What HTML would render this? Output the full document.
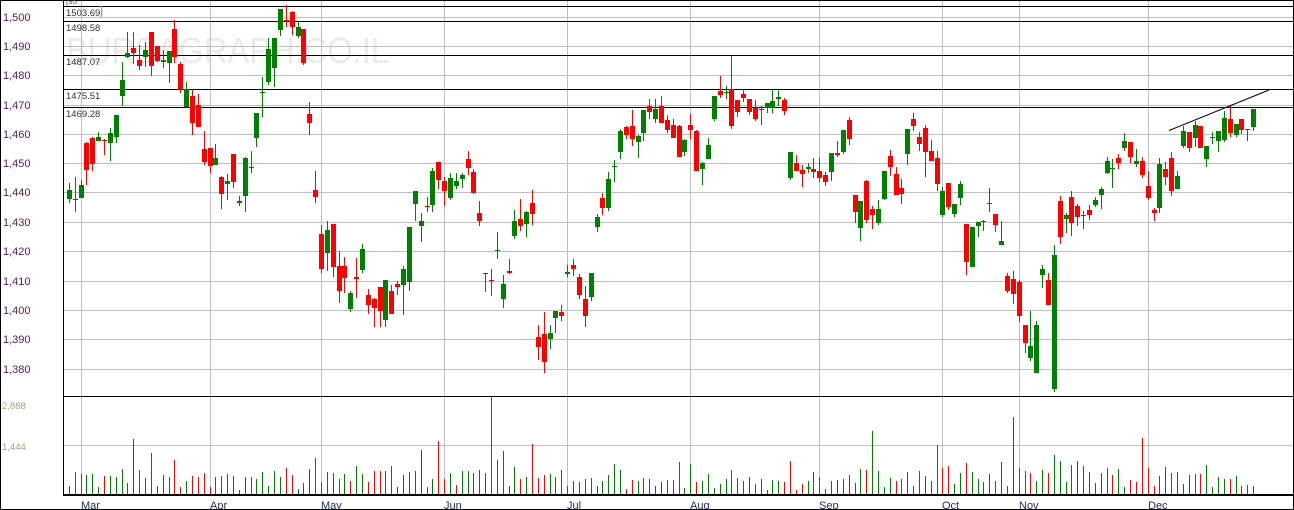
<!DOCTYPE html>
<html><head><meta charset="utf-8"><style>
html,body{margin:0;padding:0;background:#fff;width:1294px;height:510px;overflow:hidden}
svg{display:block}
text{font-family:"Liberation Sans",Arial,sans-serif}
</style></head><body>
<svg width="1294" height="510" viewBox="0 0 1294 510" xmlns="http://www.w3.org/2000/svg">
<rect x="0" y="0" width="1294" height="510" fill="#fff"/>
<!-- watermark -->
<text x="66" y="63" font-size="36" fill="#ebebeb" textLength="323" lengthAdjust="spacingAndGlyphs">BURSAGRAPH.CO.IL</text>
<g shape-rendering="crispEdges">
<!-- horizontal gray grid -->
<path stroke="#c0c0c0" stroke-width="1" fill="none" d="M63 17.5H1293M63 46.5H1293M63 75.5H1293M63 105.5H1293M63 134.5H1293M63 163.5H1293M63 192.5H1293M63 222.5H1293M63 251.5H1293M63 281.5H1293M63 310.5H1293M63 339.5H1293M63 369.5H1293M63 445.5H1293"/>
<!-- vertical gray grid -->
<path stroke="#c0c0c0" stroke-width="1" fill="none" d="M81.5 0V494M210.5 0V494M321.5 0V494M444.5 0V494M567.5 0V494M690.5 0V494M819.5 0V494M942.5 0V494M1019.5 0V494M1148.5 0V494"/>
<!-- black level lines -->
<path stroke="#000" stroke-width="1" fill="none" d="M63 6.5H1293M63 21.5H1293M63 55.5H1293M63 89.5H1293M63 107.5H1293"/>
<!-- green wicks -->
<path stroke="#008000" stroke-width="1" fill="none" d="M69.5 183V203M75.5 177V212M81.5 180V198M98.5 132V141M110.5 128V161M116.5 115V143M122.5 62V106M127.5 32V58M145.5 42V67M163.5 50V68M169.5 51V83M186.5 82V107M215.5 144V165M227.5 174V200M239.5 196V206M245.5 157V212M256.5 113V147M262.5 77V117M268.5 38V85M274.5 38V87M280.5 9V36M298.5 22V38M327.5 221V271M350.5 291V312M362.5 244V273M385.5 280V327M403.5 266V315M409.5 227V291M415.5 191V221M421.5 213V242M432.5 168V212M450.5 173V200M456.5 173V189M462.5 173V188M497.5 232V259M503.5 275V308M514.5 210V239M526.5 211V237M550.5 325V349M555.5 311V333M567.5 265V277M591.5 273V301M597.5 214V232M608.5 172V211M614.5 160V182M620.5 129V159M638.5 135V158M643.5 110V141M655.5 99V123M684.5 139V156M702.5 162V185M708.5 138V159M714.5 96V121M726.5 86V99M761.5 106V125M767.5 103V113M772.5 89V113M778.5 89V106M790.5 152V180M808.5 163V173M831.5 153V181M843.5 130V154M860.5 201V241M878.5 200V225M884.5 171V200M907.5 129V165M942.5 187V217M954.5 204V217M960.5 181V205M972.5 227V267M978.5 222V237M989.5 188V212M1001.5 221V245M1030.5 311V361M1036.5 321V373M1042.5 265V288M1054.5 245V392M1066.5 213V233M1083.5 211V229M1095.5 197V207M1101.5 187V209M1107.5 157V174M1112.5 159V188M1124.5 133V151M1136.5 149V167M1159.5 158V213M1177.5 171V189M1183.5 126V148M1195.5 121V147M1206.5 146V167M1212.5 132V144M1218.5 131V152M1224.5 111V142M1236.5 124V137M1247.5 129V141M1253.5 109V131"/>
<!-- green bodies -->
<path fill="#008000" d="M67 190h5v9h-5zM73 199h5v1h-5zM79 185h5v13h-5zM96 137h5v4h-5zM108 133h5v10h-5zM114 115h5v22h-5zM120 80h5v16h-5zM125 53h5v4h-5zM143 50h5v7h-5zM161 60h5v2h-5zM167 51h5v12h-5zM184 89h5v18h-5zM213 158h5v7h-5zM225 181h5v3h-5zM237 201h5v2h-5zM243 158h5v38h-5zM254 113h5v25h-5zM260 92h5v1h-5zM266 49h5v33h-5zM272 38h5v30h-5zM278 9h5v21h-5zM296 27h5v9h-5zM325 230h5v23h-5zM348 293h5v16h-5zM360 249h5v21h-5zM383 280h5v40h-5zM401 269h5v16h-5zM407 227h5v55h-5zM413 191h5v13h-5zM419 221h5v5h-5zM430 171h5v34h-5zM448 178h5v20h-5zM454 181h5v5h-5zM460 175h5v4h-5zM495 250h5v1h-5zM501 284h5v15h-5zM512 221h5v15h-5zM524 212h5v12h-5zM548 333h5v6h-5zM553 311h5v7h-5zM565 272h5v2h-5zM589 273h5v24h-5zM595 217h5v10h-5zM606 179h5v29h-5zM612 166h5v1h-5zM618 131h5v21h-5zM636 136h5v6h-5zM641 110h5v23h-5zM653 109h5v10h-5zM682 140h5v12h-5zM700 163h5v6h-5zM706 145h5v14h-5zM712 96h5v23h-5zM724 92h5v1h-5zM759 109h5v1h-5zM765 103h5v5h-5zM770 101h5v7h-5zM776 97h5v2h-5zM788 152h5v26h-5zM806 167h5v2h-5zM829 153h5v19h-5zM841 130h5v22h-5zM858 201h5v27h-5zM876 209h5v14h-5zM882 171h5v28h-5zM905 129h5v25h-5zM940 191h5v24h-5zM952 204h5v10h-5zM958 184h5v14h-5zM970 227h5v40h-5zM976 222h5v4h-5zM987 203h5v1h-5zM999 241h5v4h-5zM1028 346h5v12h-5zM1034 325h5v48h-5zM1040 269h5v6h-5zM1052 255h5v134h-5zM1064 215h5v4h-5zM1081 215h5v1h-5zM1093 200h5v5h-5zM1099 189h5v6h-5zM1105 161h5v12h-5zM1110 168h5v1h-5zM1122 141h5v7h-5zM1134 161h5v3h-5zM1157 164h5v44h-5zM1175 176h5v13h-5zM1181 131h5v15h-5zM1193 125h5v13h-5zM1204 146h5v13h-5zM1210 137h5v1h-5zM1216 131h5v10h-5zM1222 118h5v22h-5zM1234 124h5v11h-5zM1245 129h5v1h-5zM1251 109h5v18h-5z"/>
<!-- red wicks -->
<path stroke="#ff0000" stroke-width="1" fill="none" d="M86.5 142V185M92.5 137V171M104.5 139V155M133.5 32V64M139.5 45V70M151.5 32V76M157.5 46V62M174.5 20V63M180.5 62V93M192.5 89V135M198.5 94V127M204.5 131V165M210.5 148V173M221.5 176V209M233.5 154V188M251.5 151V173M286.5 5V27M292.5 11V35M303.5 29V65M309.5 102V135M315.5 171V203M321.5 225V273M333.5 224V277M339.5 251V303M344.5 257V293M356.5 258V298M368.5 289V314M374.5 298V327M380.5 287V327M391.5 285V314M397.5 281V295M427.5 197V212M438.5 162V189M444.5 177V206M468.5 151V175M473.5 169V194M479.5 201V226M485.5 273V292M491.5 269V296M509.5 259V274M520.5 199V231M532.5 190V225M538.5 325V360M544.5 312V373M561.5 305V321M573.5 259V276M579.5 274V299M585.5 286V327M602.5 193V215M626.5 126V139M632.5 110V146M649.5 99V119M661.5 96V123M667.5 115V133M673.5 119V138M679.5 125V157M690.5 114V139M696.5 130V171M720.5 76V98M731.5 56V129M737.5 100V117M743.5 89V102M749.5 99V115M755.5 100V121M784.5 98V115M796.5 155V171M802.5 165V187M813.5 158V178M819.5 158V182M825.5 172V186M837.5 141V157M849.5 117V145M855.5 195V223M866.5 180V223M872.5 206V229M890.5 150V176M896.5 167V195M901.5 179V204M913.5 113V131M919.5 132V151M925.5 125V177M931.5 140V161M937.5 151V191M948.5 183V210M966.5 224V275M983.5 220V231M995.5 214V232M1007.5 273V293M1013.5 271V304M1019.5 280V322M1025.5 325V353M1048.5 273V305M1060.5 196V244M1071.5 191V236M1077.5 204V226M1089.5 205V220M1118.5 154V169M1130.5 142V163M1142.5 157V178M1148.5 171V200M1154.5 208V221M1165.5 162V185M1171.5 152V196M1189.5 132V152M1200.5 126V148M1230.5 106V137M1241.5 119V134"/>
<!-- red bodies -->
<path fill="#ff0000" d="M84 143h5v27h-5zM90 138h5v26h-5zM102 140h5v1h-5zM131 48h5v5h-5zM137 60h5v6h-5zM149 32h5v34h-5zM155 46h5v15h-5zM172 29h5v28h-5zM178 64h5v25h-5zM190 96h5v27h-5zM196 105h5v22h-5zM202 149h5v13h-5zM208 148h5v18h-5zM219 177h5v17h-5zM231 154h5v28h-5zM249 167h5v1h-5zM284 20h5v1h-5zM290 12h5v15h-5zM301 29h5v34h-5zM307 114h5v9h-5zM313 190h5v7h-5zM319 234h5v35h-5zM331 224h5v43h-5zM337 266h5v25h-5zM342 266h5v12h-5zM354 277h5v2h-5zM366 295h5v10h-5zM372 299h5v9h-5zM378 287h5v24h-5zM389 291h5v23h-5zM395 284h5v3h-5zM425 206h5v1h-5zM436 162h5v18h-5zM442 181h5v10h-5zM466 159h5v9h-5zM471 172h5v21h-5zM477 213h5v8h-5zM483 273h5v1h-5zM489 280h5v1h-5zM507 271h5v2h-5zM518 219h5v7h-5zM530 203h5v11h-5zM536 337h5v10h-5zM542 334h5v28h-5zM559 312h5v4h-5zM571 265h5v4h-5zM577 277h5v18h-5zM583 299h5v17h-5zM600 198h5v10h-5zM624 127h5v8h-5zM630 126h5v13h-5zM647 106h5v6h-5zM659 106h5v17h-5zM665 120h5v10h-5zM671 125h5v13h-5zM677 126h5v31h-5zM688 125h5v5h-5zM694 131h5v40h-5zM718 91h5v4h-5zM729 89h5v37h-5zM735 100h5v12h-5zM741 94h5v4h-5zM747 99h5v13h-5zM753 108h5v11h-5zM782 100h5v11h-5zM794 163h5v8h-5zM800 170h5v4h-5zM811 169h5v3h-5zM817 171h5v7h-5zM823 175h5v7h-5zM835 153h5v2h-5zM847 120h5v19h-5zM853 195h5v17h-5zM864 181h5v39h-5zM870 209h5v6h-5zM888 156h5v11h-5zM894 174h5v21h-5zM899 188h5v6h-5zM911 119h5v7h-5zM917 137h5v7h-5zM923 128h5v24h-5zM929 151h5v10h-5zM935 158h5v26h-5zM946 183h5v24h-5zM964 224h5v38h-5zM981 221h5v1h-5zM993 214h5v11h-5zM1005 276h5v15h-5zM1011 279h5v15h-5zM1017 282h5v34h-5zM1023 325h5v18h-5zM1046 280h5v25h-5zM1058 201h5v36h-5zM1069 197h5v26h-5zM1075 206h5v11h-5zM1087 210h5v5h-5zM1116 158h5v5h-5zM1128 142h5v15h-5zM1140 161h5v14h-5zM1146 186h5v12h-5zM1152 210h5v3h-5zM1163 169h5v8h-5zM1169 158h5v33h-5zM1187 132h5v16h-5zM1198 126h5v22h-5zM1228 119h5v14h-5zM1239 119h5v11h-5z"/>
<!-- volume green -->
<path stroke="#008000" stroke-width="1" fill="none" d="M69.5 486V494M81.5 474V494M86.5 475V494M92.5 474V494M98.5 487V494M110.5 476V494M116.5 477V494M122.5 469V494M127.5 483V494M133.5 439V494M145.5 478V494M157.5 486V494M163.5 475V494M169.5 477V494M186.5 481V494M215.5 477V494M227.5 474V494M245.5 477V494M256.5 479V494M262.5 472V494M268.5 486V494M274.5 471V494M280.5 477V494M298.5 489V494M327.5 472V494M344.5 474V494M356.5 466V494M362.5 474V494M385.5 471V494M397.5 487V494M403.5 475V494M409.5 472V494M415.5 471V494M427.5 487V494M432.5 479V494M450.5 473V494M462.5 471V494M468.5 471V494M497.5 460V494M509.5 486V494M514.5 467V494M526.5 477V494M550.5 474V494M555.5 477V494M567.5 486V494M573.5 481V494M591.5 478V494M597.5 486V494M602.5 481V494M608.5 475V494M614.5 464V494M620.5 470V494M638.5 481V494M643.5 478V494M655.5 486V494M684.5 488V494M690.5 464V494M702.5 481V494M708.5 474V494M714.5 488V494M720.5 484V494M726.5 479V494M737.5 478V494M743.5 481V494M761.5 479V494M767.5 490V494M772.5 480V494M778.5 481V494M808.5 481V494M831.5 481V494M843.5 479V494M860.5 469V494M872.5 431V494M878.5 471V494M884.5 487V494M890.5 478V494M901.5 479V494M907.5 472V494M913.5 486V494M954.5 484V494M960.5 473V494M972.5 472V494M978.5 479V494M989.5 474V494M1036.5 481V494M1042.5 470V494M1054.5 455V494M1060.5 461V494M1066.5 482V494M1077.5 461V494M1083.5 466V494M1089.5 472V494M1095.5 483V494M1101.5 473V494M1107.5 468V494M1118.5 469V494M1124.5 487V494M1159.5 476V494M1177.5 472V494M1183.5 484V494M1195.5 474V494M1206.5 465V494M1212.5 487V494M1218.5 477V494M1224.5 479V494M1236.5 476V494M1247.5 485V494M1253.5 486V494"/>
<!-- volume red -->
<path stroke="#ff0000" stroke-width="1" fill="none" d="M75.5 472V494M104.5 476V494M139.5 470V494M151.5 453V494M174.5 460V494M180.5 487V494M192.5 476V494M198.5 477V494M204.5 473V494M210.5 487V494M221.5 476V494M233.5 476V494M239.5 490V494M251.5 477V494M286.5 468V494M292.5 475V494M303.5 483V494M309.5 469V494M315.5 458V494M321.5 482V494M333.5 473V494M339.5 479V494M350.5 481V494M368.5 482V494M374.5 471V494M380.5 471V494M391.5 466V494M421.5 450V494M438.5 441V494M444.5 479V494M456.5 485V494M473.5 473V494M479.5 470V494M485.5 473V494M491.5 397V494M503.5 451V494M520.5 479V494M532.5 444V494M538.5 478V494M544.5 475V494M561.5 470V494M579.5 482V494M585.5 479V494M626.5 489V494M632.5 480V494M649.5 479V494M661.5 482V494M667.5 480V494M673.5 480V494M679.5 462V494M696.5 482V494M731.5 470V494M749.5 477V494M755.5 484V494M784.5 482V494M790.5 461V494M796.5 490V494M802.5 484V494M813.5 472V494M819.5 477V494M825.5 489V494M837.5 480V494M849.5 475V494M855.5 483V494M866.5 470V494M896.5 481V494M919.5 471V494M925.5 476V494M931.5 481V494M937.5 445V494M942.5 468V494M948.5 466V494M966.5 463V494M983.5 482V494M995.5 481V494M1001.5 462V494M1007.5 486V494M1013.5 417V494M1019.5 468V494M1025.5 471V494M1030.5 473V494M1048.5 473V494M1071.5 465V494M1112.5 475V494M1130.5 480V494M1136.5 482V494M1142.5 438V494M1148.5 468V494M1154.5 486V494M1165.5 467V494M1171.5 473V494M1189.5 475V494M1200.5 474V494M1230.5 479V494M1241.5 486V494"/>
<!-- frame -->
<path stroke="#000" stroke-width="1" fill="none" d="M0 0.5H1294M0.5 0V510M1293.5 0V510M0 509.5H1294M63.5 0V496M63 396.5H1293"/>
<path stroke="#000" stroke-width="2" fill="none" d="M63 495H1293"/>
</g>
<!-- trend line -->
<line x1="1169" y1="130.5" x2="1269" y2="90" stroke="#000" stroke-width="1"/>
<!-- level labels -->
<g font-size="9.5" fill="#333">
<text x="66" y="4" font-size="8" fill="#555">[95</text>
<text x="66" y="16">1503.69</text>
<text x="66" y="31">1498.58</text>
<text x="66" y="65">1487.07</text>
<text x="66" y="99">1475.51</text>
<text x="66" y="117">1469.28</text>
</g>
<text x="100" y="14" font-size="11" fill="#3399cc">]</text>
<!-- price axis labels -->
<g font-size="11" fill="#552255">
<text x="3" y="21">1,500</text>
<text x="3" y="50">1,490</text>
<text x="3" y="79">1,480</text>
<text x="3" y="109">1,470</text>
<text x="3" y="138">1,460</text>
<text x="3" y="167">1,450</text>
<text x="3" y="196">1,440</text>
<text x="3" y="226">1,430</text>
<text x="3" y="255">1,420</text>
<text x="3" y="285">1,410</text>
<text x="3" y="314">1,400</text>
<text x="3" y="343">1,390</text>
<text x="3" y="373">1,380</text>
</g>
<g font-size="9.5" fill="#a89c88">
<text x="2" y="409">2,888</text>
<text x="2" y="450">1,444</text>
</g>
<!-- month labels -->
<g font-size="11" fill="#23305e">
<text x="81" y="509">Mar</text>
<text x="210" y="509">Apr</text>
<text x="321" y="509">May</text>
<text x="444" y="509">Jun</text>
<text x="567" y="509">Jul</text>
<text x="690" y="509">Aug</text>
<text x="819" y="509">Sep</text>
<text x="942" y="509">Oct</text>
<text x="1019" y="509">Nov</text>
<text x="1148" y="509">Dec</text>
</g>
</svg>
</body></html>
